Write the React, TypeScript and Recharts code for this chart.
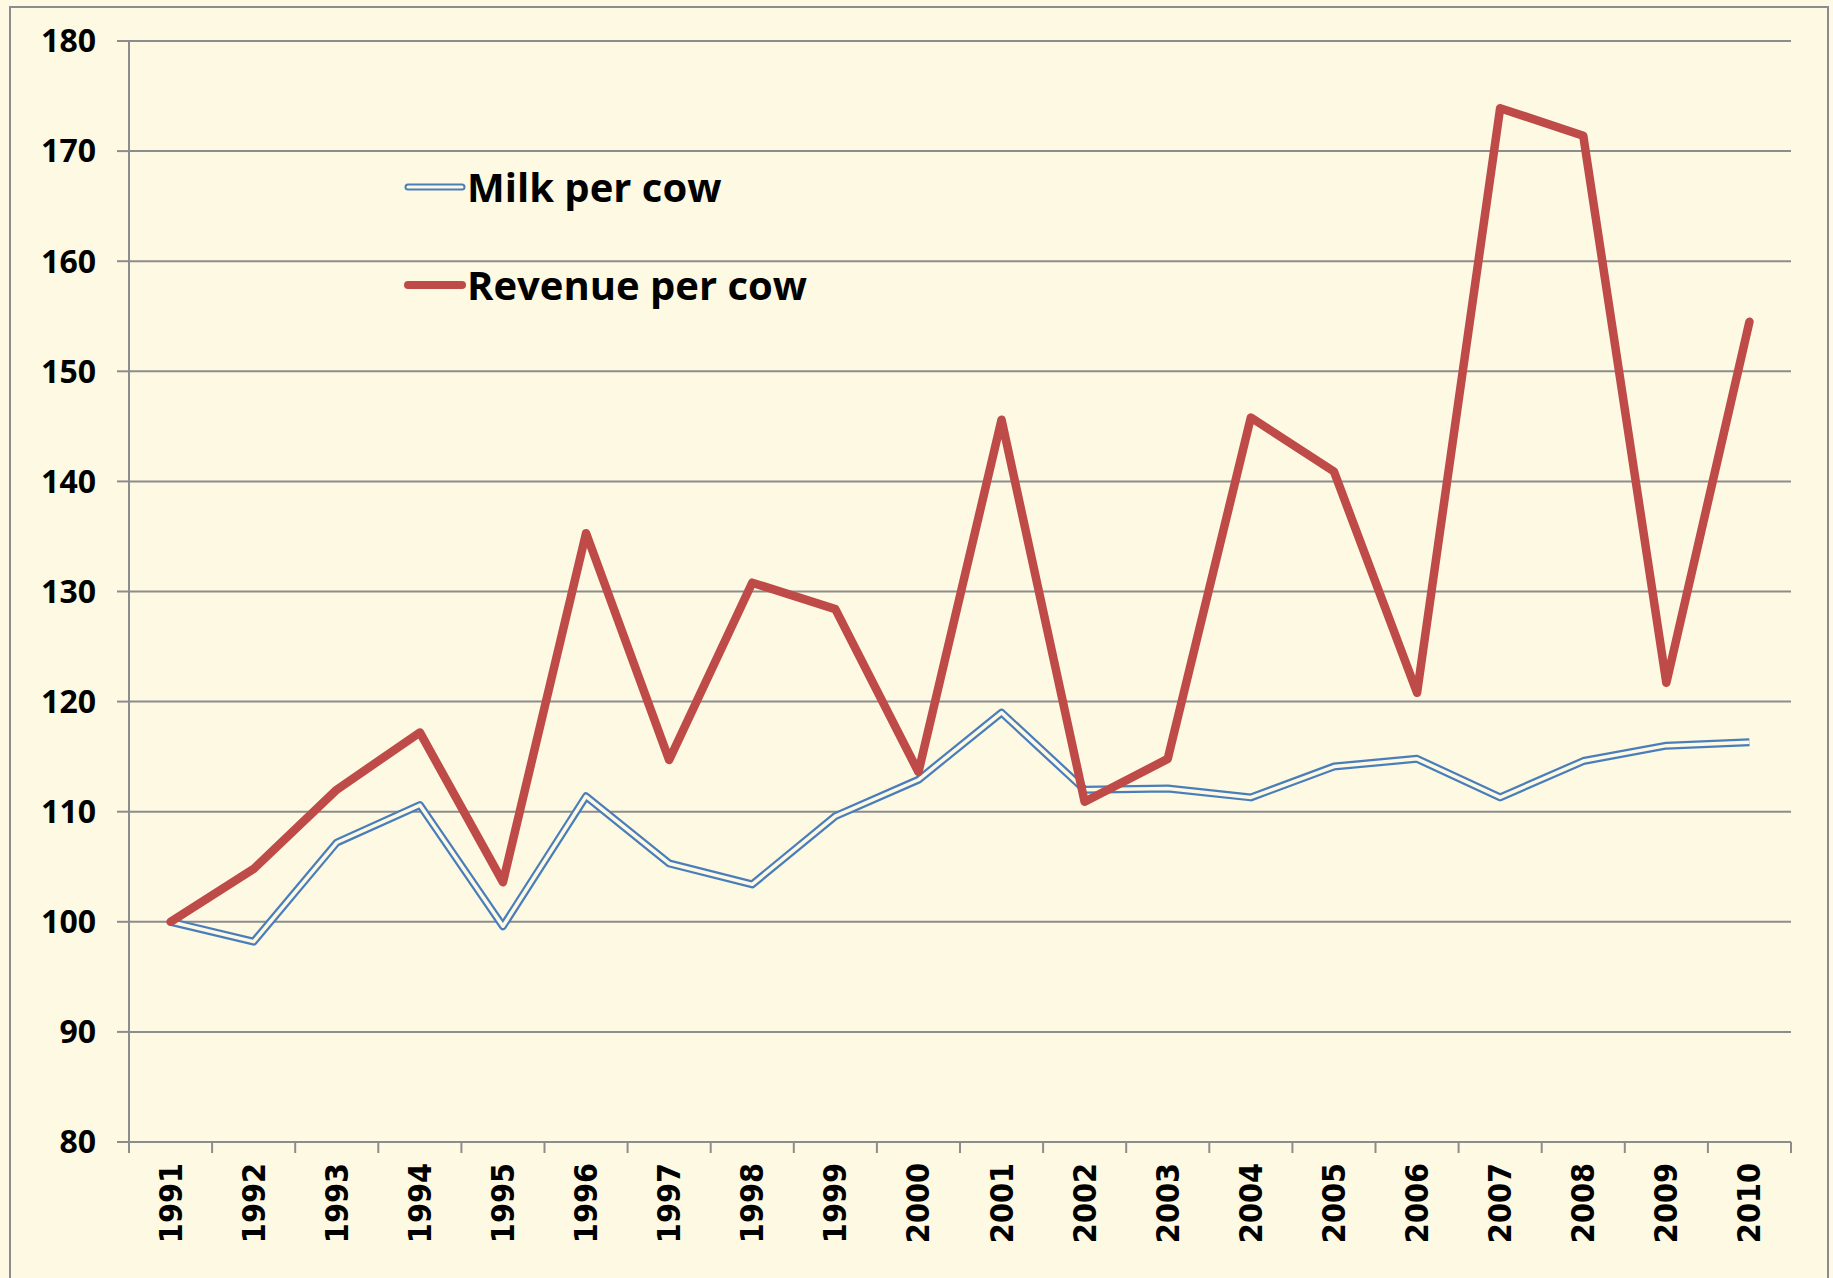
import { LineChart, Line, XAxis, YAxis, CartesianGrid } from 'recharts';

const years = ['1991', '1992', '1993', '1994', '1995', '1996', '1997', '1998', '1999', '2000',
  '2001', '2002', '2003', '2004', '2005', '2006', '2007', '2008', '2009', '2010'];
const milkPerCow = [100, 98.2, 107.2, 110.6, 99.6, 111.4, 105.3, 103.4, 109.6, 112.9,
  119.0, 112.0, 112.1, 111.3, 114.1, 114.8, 111.3, 114.6, 116.0, 116.3];
const revenuePerCow = [100, 104.8, 112.0, 117.2, 103.6, 135.3, 114.7, 130.8, 128.4, 113.6,
  145.6, 110.9, 114.8, 145.8, 140.9, 120.8, 173.9, 171.4, 121.7, 154.5];
const yTicks = [80, 90, 100, 110, 120, 130, 140, 150, 160, 170, 180];

const data = years.map((year, i) => ({ year, milk: milkPerCow[i], revenue: revenuePerCow[i] }));

const BG = '#FEF9E3';
const GRID = '#8c8c8c';
const BLUE = '#4A7EBB';
const RED = '#BE4B48';

const CHART_W = 1833;
const CHART_H = 1278;
const MARGIN = { top: 41, right: 42, bottom: 36, left: 9 };
const Y_AXIS_W = 120;
const X_AXIS_H = 100;
const PLOT_W = CHART_W - MARGIN.left - MARGIN.right - Y_AXIS_W;
const STEP = PLOT_W / years.length;

function YearTick(props: any) {
  const { x, y, payload, index } = props;
  const half = STEP / 2;
  return (
    <g>
      <line x1={x - half} x2={x - half} y1={y} y2={y + 11} stroke={GRID} strokeWidth={2} />
      {index === years.length - 1 && (
        <line x1={x + half} x2={x + half} y1={y} y2={y + 11} stroke={GRID} strokeWidth={2} />
      )}
      <text
        x={x}
        y={y + 21}
        transform={`rotate(-90, ${x}, ${y + 21})`}
        textAnchor="end"
        dominantBaseline="central"
        fontFamily="'DejaVu Sans Condensed', 'DejaVu Sans', sans-serif"
        fontWeight="bold"
        fontSize={32}
        fill="#000"
      >
        {payload.value}
      </text>
    </g>
  );
}

// legend sits inside the plot, top-left
function LegendBox() {
  const textStyle: React.CSSProperties = {
    fontFamily: "'Open Sans', sans-serif",
    fontWeight: 700,
    fontSize: 40,
    color: '#000',
    lineHeight: '48px',
    whiteSpace: 'nowrap',
  };
  return (
    <div style={{ position: 'absolute', left: 403, top: 163 }}>
      <div style={{ display: 'flex', alignItems: 'center', height: 48 }}>
        <svg width={64} height={14} style={{ display: 'block' }}>
          <line x1={5} x2={59} y1={7} y2={7} stroke={BLUE} strokeWidth={7} strokeLinecap="round" />
          <line x1={5} x2={59} y1={7} y2={7} stroke={BG} strokeWidth={3} strokeLinecap="round" />
        </svg>
        <span style={textStyle}>Milk per cow</span>
      </div>
      <div style={{ display: 'flex', alignItems: 'center', height: 48, marginTop: 50 }}>
        <svg width={64} height={14} style={{ display: 'block' }}>
          <line x1={5} x2={59} y1={7} y2={7} stroke={RED} strokeWidth={8} strokeLinecap="round" />
        </svg>
        <span style={textStyle}>Revenue per cow</span>
      </div>
    </div>
  );
}

export default function App() {
  return (
    <div style={{ position: 'absolute', left: 0, top: 0, width: CHART_W, height: CHART_H, background: BG, overflow: 'hidden' }}>
      <div
        style={{
          position: 'absolute',
          left: 9,
          top: 6,
          width: 1820,
          height: 1320,
          border: `2px solid ${GRID}`,
          boxSizing: 'border-box',
        }}
      />
      <div style={{ position: 'absolute', left: 0, top: 0 }}>
        <LineChart width={CHART_W} height={CHART_H} data={data} margin={MARGIN}>
          <CartesianGrid horizontal vertical={false} stroke={GRID} strokeWidth={2} />
          <XAxis
            dataKey="year"
            height={X_AXIS_H}
            padding={{ left: STEP / 2, right: STEP / 2 }}
            axisLine={{ stroke: GRID, strokeWidth: 2 }}
            tickLine={false}
            tickSize={0}
            tickMargin={0}
            interval={0}
            tick={<YearTick />}
          />
          <YAxis
            width={Y_AXIS_W}
            domain={[80, 180]}
            ticks={yTicks}
            interval={0}
            axisLine={{ stroke: GRID, strokeWidth: 2 }}
            tickLine={{ stroke: GRID, strokeWidth: 2 }}
            tickSize={12}
            tickMargin={21}
            tick={{ fontFamily: "'Open Sans', sans-serif", fontWeight: 700, fontSize: 32, fill: '#000' }}
          />
          <Line
            dataKey="milk"
            name="Milk per cow"
            stroke={BLUE}
            strokeWidth={8}
            dot={false}
            strokeLinejoin="round"
            isAnimationActive={false}
          />
          <Line
            dataKey="milk"
            name="milk-inner"
            legendType="none"
            stroke={BG}
            strokeWidth={3.5}
            dot={false}
            strokeLinejoin="round"
            isAnimationActive={false}
          />
          <Line
            dataKey="revenue"
            name="Revenue per cow"
            stroke={RED}
            strokeWidth={8.5}
            dot={false}
            strokeLinejoin="round"
            strokeLinecap="round"
            isAnimationActive={false}
          />
        </LineChart>
      </div>
      <LegendBox />
    </div>
  );
}
